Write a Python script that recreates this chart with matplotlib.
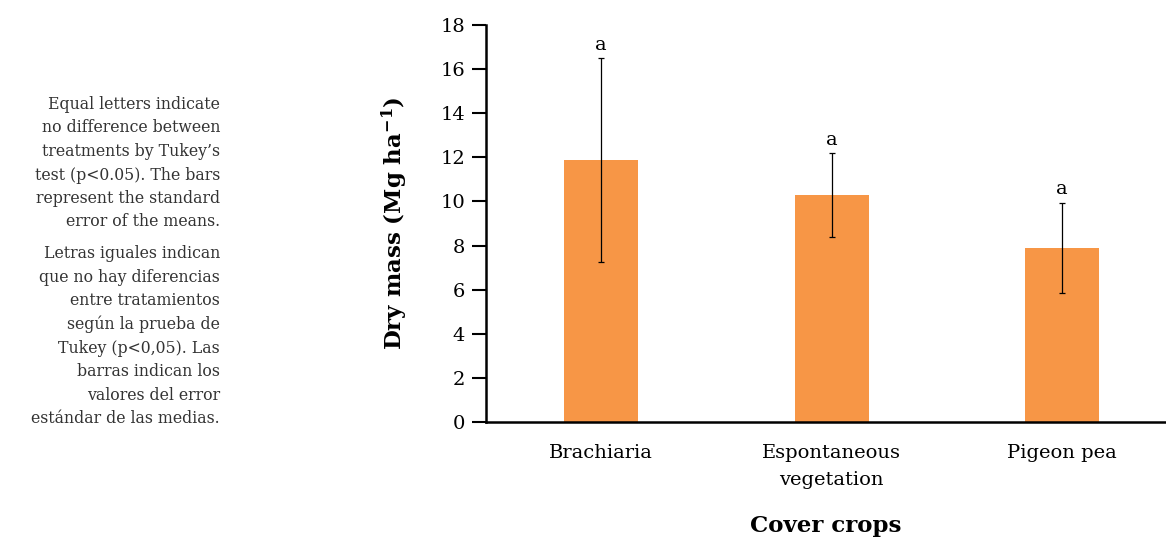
import matplotlib
matplotlib.use("Agg")
import matplotlib.pyplot as plt

categories = ["Brachiaria", "Espontaneous\nvegetation", "Pigeon pea"]
dry_mass = [11.88, 10.29, 7.89]
std_err = [4.62, 1.90, 2.05]
letters = ["a", "a", "a"]
y_ticks = [0, 2, 4, 6, 8, 10, 12, 14, 16, 18]

note_en = ("Equal letters indicate\nno difference between\ntreatments by Tukey\u2019s\n"
           "test (p<0.05). The bars\nrepresent the standard\nerror of the means.")
note_es = ("Letras iguales indican\nque no hay diferencias\nentre tratamientos\n"
           "seg\u00fan la prueba de\nTukey (p<0,05). Las\nbarras indican los\n"
           "valores del error\nest\u00e1ndar de las medias.")

plt.rcParams['font.family'] = ['DejaVu Serif']
plt.rcParams['mathtext.fontset'] = 'dejavuserif'

fig = plt.figure(figsize=(11.66, 5.4), dpi=100)
ax = fig.add_axes([486/1166, 1-422/540, 1-486/1166, (422-25)/540])

x = list(range(len(categories)))
ax.bar(x, dry_mass, width=0.32, color="#F79646", zorder=2)
ax.errorbar(x, dry_mass, yerr=std_err, fmt="none", ecolor="black",
            elinewidth=0.9, capsize=2.5, capthick=0.9, zorder=3)
for xi, m, e, l in zip(x, dry_mass, std_err, letters):
    ax.annotate(l, (xi, m + e), xytext=(0, 6), textcoords="offset points",
                ha="center", va="baseline", fontsize=14)

ax.set_xlim(-0.5, 2.45)
ax.set_ylim(0, 18)
ax.set_yticks(y_ticks)
ax.set_xticks(x)
ax.set_xticklabels(categories, fontsize=14, linespacing=1.6)
ax.tick_params(axis="x", length=0, pad=16)
ax.tick_params(axis="y", length=10, width=1.5, pad=5, labelsize=14, direction="out")
for s in ["top", "right"]:
    ax.spines[s].set_visible(False)
ax.spines["left"].set_linewidth(1.8)
ax.spines["bottom"].set_linewidth(1.8)

ax.set_ylabel(r"Dry mass (Mg ha$^{\mathbf{-1}}$)", fontsize=16.5, fontweight="bold", labelpad=22)
ax.set_xlabel("Cover crops", fontsize=16.5, fontweight="bold", labelpad=19)

fig.text(220/1166, 1-96/540, note_en, ha="right", va="top", fontsize=11.3,
         color="#333333", linespacing=1.5)
fig.text(220/1166, 1-245/540, note_es, ha="right", va="top", fontsize=11.3,
         color="#333333", linespacing=1.5)

fig.savefig("out.png", dpi=100)
